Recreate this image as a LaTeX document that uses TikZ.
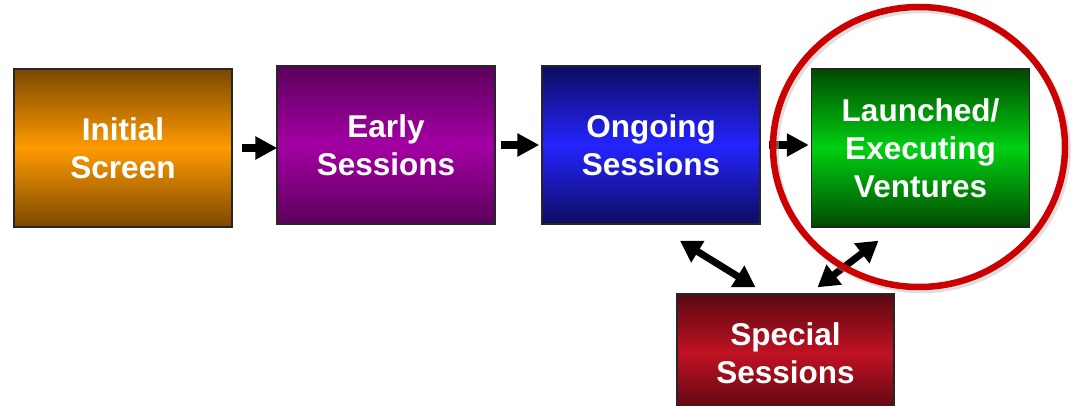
\documentclass[tikz,border=0pt]{standalone}
\usepackage{fontspec}
\setmainfont{Liberation Sans}
\usetikzlibrary{arrows.meta,calc,positioning}

\definecolor{orDark}{HTML}{7A4800}
\definecolor{orMid}{HTML}{FF9A00}
\definecolor{puDark}{HTML}{5C005C}
\definecolor{puMid}{HTML}{A300A3}
\definecolor{blDark}{HTML}{0C0C60}
\definecolor{blMid}{HTML}{2424FF}
\definecolor{grDark}{HTML}{004A00}
\definecolor{grMid}{HTML}{00CF12}
\definecolor{rdDark}{HTML}{580812}
\definecolor{rdMid}{HTML}{C01222}
\definecolor{ringRed}{HTML}{CC0000}

\tikzset{
  stage/.style={draw=black!85, line width=1.4pt, minimum width=218pt, minimum height=158pt,
    inner sep=0pt, align=center, text=white,
    font=\fontsize{31.5}{38}\selectfont\bfseries},
  shadeof/.style 2 args={top color=#1, bottom color=#1, middle color=#2},
  flow/.style={line width=8pt, -{Triangle[length=22pt,width=22pt]}},
  link/.style={line width=7pt, {Triangle[length=21pt,width=24pt]}-{Triangle[length=21pt,width=24pt]}}
}

\begin{document}
\begin{tikzpicture}[x=1pt,y=-1pt]
  \useasboundingbox (0,0) rectangle (1072,406);
  \clip (0,0) rectangle (1072,406);

  % pipeline stages
  \node[stage, shadeof={orDark}{orMid}] (init) at (123,148) {Initial\\Screen};
  \node[stage, shadeof={puDark}{puMid}] (early) at (386,145) {Early\\Sessions};
  \node[stage, shadeof={blDark}{blMid}] (ongo) at (651,145) {Ongoing\\Sessions};
  \node[stage, shadeof={grDark}{grMid}] (laun) at (920.5,148) {Launched/\\Executing\\Ventures};
  \node[stage, shadeof={rdDark}{rdMid}, minimum width=217pt, minimum height=118pt] (spec) at (785.5,353) {Special\\Sessions};

  % forward arrows
  \draw[flow, shorten <=9pt, shorten >=-1pt] (init.east) -- (early.west |- init.east);
  \draw[flow, shorten <=5pt, shorten >=2pt] (early.east) -- (ongo.west);
  \draw[flow, shorten <=8pt, shorten >=2pt] (ongo.east) -- (laun.west |- ongo.east);

  % links to the special sessions
  \draw[link] ($(ongo.south)+(29,16)$) -- ($(spec.north)+(-30,-6)$);
  \draw[link] ($(laun.south)+(-42,13)$) -- ($(spec.north)+(32,-6)$);

  % highlight ring around the launched stage
  \draw[black!25, line width=6.5pt, opacity=0.5] ($(laun.center)+(1,2)$) ellipse [x radius=146, y radius=140];
  \draw[ringRed, line width=6.5pt] ($(laun.center)+(-1.5,-1)$) ellipse [x radius=146, y radius=140];
\end{tikzpicture}
\end{document}
